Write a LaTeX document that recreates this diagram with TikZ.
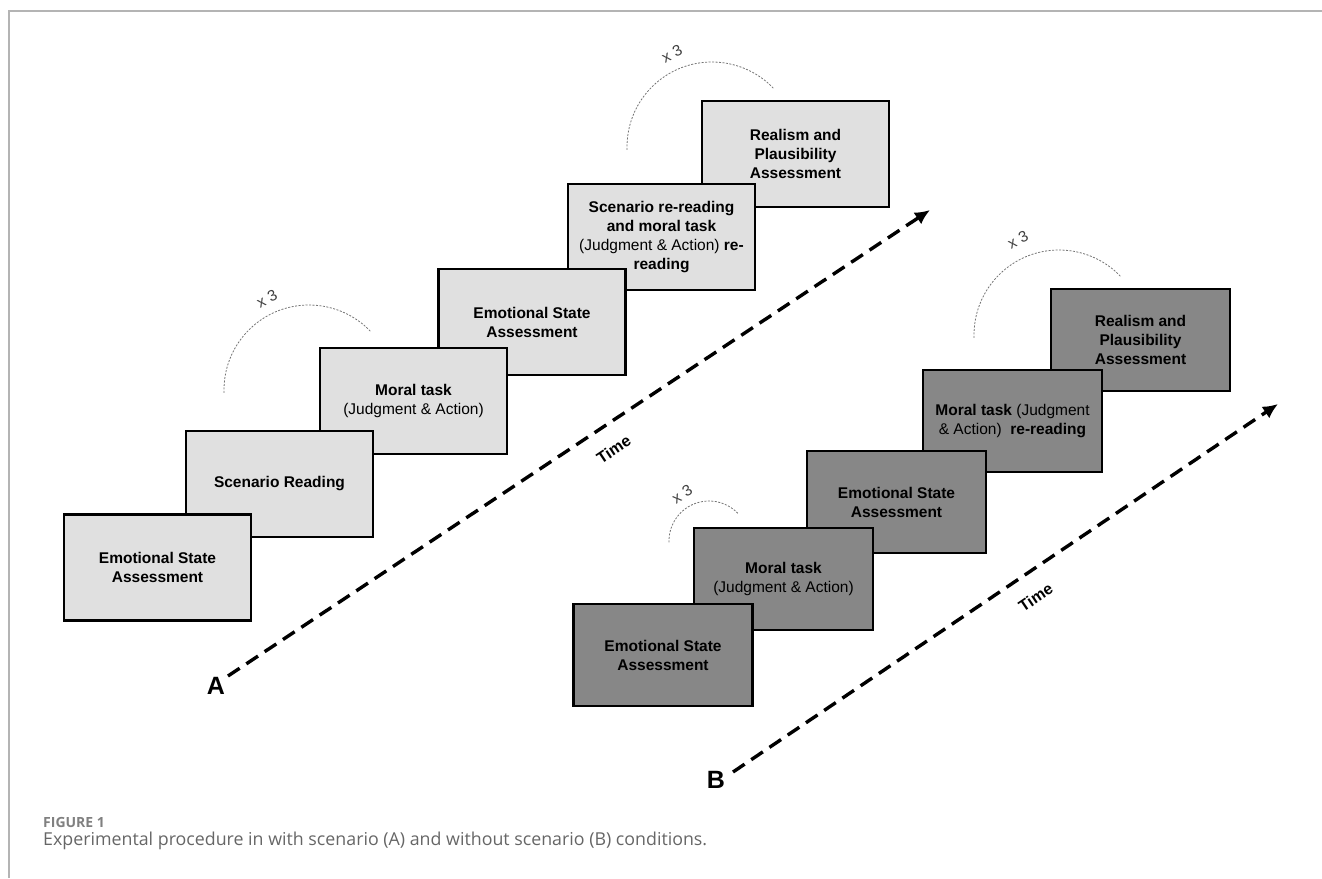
\documentclass[tikz,border=0pt]{standalone}
\usepackage{fontspec}
\setmainfont{Liberation Sans}
\newfontfamily\capfont{Open Sans}
\usetikzlibrary{arrows.meta}
\definecolor{lightbox}{HTML}{E0E0E0}
\definecolor{darkbox}{HTML}{878787}
\definecolor{capgray}{HTML}{666666}
\definecolor{framegray}{HTML}{B4B4B4}
\begin{document}
\begin{tikzpicture}[
  x=1pt, y=-1pt,
  every node/.style={font=\fontsize{15.5}{19}\selectfont, align=center, inner sep=2pt},
  stepA/.style={draw=black, line width=2.4pt, fill=lightbox, minimum width=187pt, minimum height=106pt},
  stepB/.style={draw=black, line width=2.4pt, fill=darkbox, minimum width=179pt, minimum height=102pt},
  timeline/.style={line width=3.4pt, dash pattern=on 14pt off 8pt, -{Latex[length=15pt,width=14pt]}},
  timelabel/.style={font=\fontsize{16}{16}\selectfont\bfseries, sloped, below=15pt},
  repeatarc/.style={draw=black!55, line width=0.8pt, dash pattern=on 2pt off 1.5pt},
  repeatlabel/.style={font=\fontsize{15.5}{15.5}\selectfont, text=black!75},
  panel/.style={font=\fontsize{25}{25}\selectfont\bfseries}
]
  \useasboundingbox (0,0) rectangle (1322,878);
  \draw[framegray, line width=1.5pt] (9,878) -- (9,11) -- (1322,11);

  % condition A: drawn from last step to first
  \node[stepA] (realA) at (795.5,154) {\bfseries Realism and\\\bfseries Plausibility\\\bfseries Assessment};
  \node[stepA] (rereadA) at (661.5,237) {\bfseries Scenario re-reading\\\bfseries and moral task\\(Judgment \& Action) \textbf{re-}\\\bfseries reading};
  \node[stepA] (emoA2) at (532,322) {\bfseries Emotional State\\\bfseries Assessment};
  \node[stepA] (moralA) at (413.5,401) {\bfseries Moral task\\(Judgment \& Action)};
  \node[stepA] (readA) at (279.5,484) {\bfseries Scenario Reading};
  \node[stepA] (emoA) at (157.5,567.5) {\bfseries Emotional State\\\bfseries Assessment};

  \coordinate (tA0) at (228,676);
  \coordinate (tA1) at (930,210);
  \draw[timeline] (tA0) -- node[timelabel, pos=0.53] {Time} (tA1);
  \node[panel] (labA) at (216,686) {A};

  \coordinate (arcA1) at (309,390);
  \coordinate (arcA2) at (712,147);
  \draw[repeatarc] (arcA1) ++(178:85) arc[start angle=178, end angle=317, radius=85];
  \draw[repeatarc] (arcA2) ++(178:85) arc[start angle=178, end angle=317, radius=85];
  \node[repeatlabel, rotate=27] (repA1) at (267,299) {x 3};
  \node[repeatlabel, rotate=27] (repA2) at (672,54) {x 3};

  % condition B
  \node[stepB] (realB) at (1140.5,340) {\bfseries Realism and\\\bfseries Plausibility\\\bfseries Assessment};
  \node[stepB] (rereadB) at (1012.5,421) {\textbf{Moral task} (Judgment\\\& Action)\ \ \textbf{re-reading}};
  \node[stepB] (emoB2) at (896.5,502) {\bfseries Emotional State\\\bfseries Assessment};
  \node[stepB] (moralB) at (783.5,579) {\bfseries Moral task\\(Judgment \& Action)};
  \node[stepB] (emoB) at (663,655) {\bfseries Emotional State\\\bfseries Assessment};

  \coordinate (tB0) at (733,772);
  \coordinate (tB1) at (1278,404);
  \draw[timeline] (tB0) -- node[timelabel, pos=0.53] {Time} (tB1);
  \node[panel] (labB) at (716,780) {B};

  \coordinate (arcB1) at (709,541);
  \coordinate (arcB2) at (1059,335);
  \draw[repeatarc] (arcB1) ++(178:40) arc[start angle=178, end angle=316, radius=40];
  \draw[repeatarc] (arcB2) ++(178:85) arc[start angle=178, end angle=317, radius=85];
  \node[repeatlabel, rotate=32] (repB1) at (682,494) {x 3};
  \node[repeatlabel, rotate=27] (repB2) at (1018,240) {x 3};

  % caption
  \node[anchor=base west, font=\capfont\fontsize{14}{14}\selectfont\bfseries, text=black!50, inner sep=0pt] (figno) at (43,827) {FIGURE 1};
  \node[anchor=base west, font=\capfont\fontsize{17.8}{17.8}\selectfont, text=capgray, inner sep=0pt] (caption) at (43,845) {Experimental procedure in with scenario (A) and without scenario (B) conditions.};
\end{tikzpicture}
\end{document}
